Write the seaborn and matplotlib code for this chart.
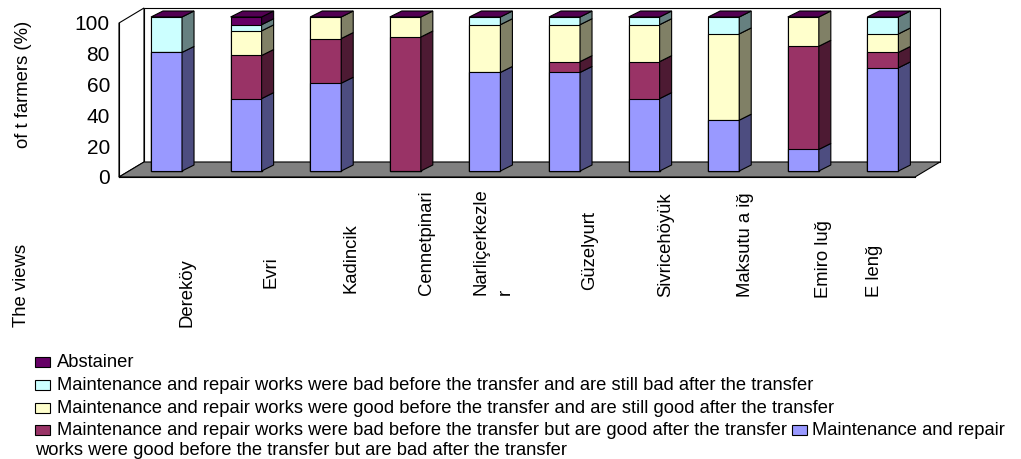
import numpy as np
import matplotlib
matplotlib.use("Agg")
import matplotlib.pyplot as plt
import matplotlib.transforms as mtransforms
from matplotlib.patches import Polygon, Rectangle
import seaborn as sns

# ---- data -----------------------------------------------------------------
villages = ["Dereköy", "Evri", "Kadincik", "Cennetpinari", "Narliçerkezle\nr",
            "Güzelyurt", "Sivricehöyük", "Maksutu a iğ", "Emiro luğ", "E lenğ"]

# shares of farmers (%), stacked from the bottom up
good_then_bad = [77, 47, 57, 0, 64, 64, 47, 33, 14, 67]
bad_then_good = [0, 28, 29, 87, 0, 7, 24, 0, 67, 10]
good_still_good = [0, 16, 14, 13, 31, 24, 24, 56, 19, 12]
bad_still_bad = [23, 4, 0, 0, 5, 5, 5, 11, 0, 11]
abstainer = [0, 5, 0, 0, 0, 0, 0, 0, 0, 0]

series_labels = [
    "Maintenance and repair works were good before the transfer but are bad after the transfer",
    "Maintenance and repair works were bad before the transfer but are good after the transfer",
    "Maintenance and repair works were good before the transfer and are still good after the transfer",
    "Maintenance and repair works were bad before the transfer and are still bad after the transfer",
    "Abstainer",
]
y_ticks = [0, 20, 40, 60, 80, 100]

# ---- styling ----------------------------------------------------------------
front_colors = ["#9999FF", "#993366", "#FFFFCC", "#CCFFFF", "#660066"]
side_colors = ["#4D4D80", "#4D1A33", "#808066", "#668080", "#330033"]
top_color = "#520052"
floor_color = "#808080"

sns.set_style("white")
plt.rcParams["font.family"] = ["Liberation Sans", "DejaVu Sans"]
plt.rcParams["text.color"] = "black"
plt.rcParams["axes.edgecolor"] = "black"
plt.rcParams["xtick.color"] = "black"
plt.rcParams["ytick.color"] = "black"

W, H, DPI = 1021, 459, 100
fig = plt.figure(figsize=(W / DPI, H / DPI), dpi=DPI)


def fx(x):
    return x / W


def fy(y):
    return 1 - y / H


# front plane of the 3-D box (pixels, measured from top-left)
left, right, top, bottom = 119, 915, 23, 177
ax = fig.add_axes([fx(left), fy(bottom), (right - left) / W, (bottom - top) / H])
ax.patch.set_visible(False)

values = np.vstack([good_then_bad, bad_then_good, good_still_good,
                    bad_still_bad, abstainer]).astype(float)
cum = np.cumsum(values, axis=0)
n_series, n_cat = values.shape

# stacked columns: cumulative totals drawn from the tallest down
bars = {}
for k in reversed(range(n_series)):
    before = len(ax.patches)
    sns.barplot(x=villages, y=cum[k], color=front_colors[k], saturation=1,
                width=0.39, edgecolor="black", linewidth=0.8,
                errorbar=None, ax=ax)
    new = sorted(ax.patches[before:], key=lambda p: p.get_x())
    bars[k] = new

ax.set_xlim(-0.5, n_cat - 0.5)
ax.set_ylim(0, 100)

# columns sit half-way into the box depth
bar_shift = ax.transData + mtransforms.ScaledTranslation(7.7 / DPI, 6 / DPI,
                                                         fig.dpi_scale_trans)
for k in bars:
    for p in bars[k]:
        p.set_transform(bar_shift)
        p.set_clip_on(False)

to_fig = fig.transFigure.inverted()
depth = np.array([12.0, 6.0])        # column depth in pixels
box_depth = np.array([25.0, 15.0])   # box depth in pixels


def add_face(pts_disp, color, z):
    poly = Polygon(to_fig.transform(pts_disp), closed=True, facecolor=color,
                   edgecolor="black", linewidth=0.8, transform=fig.transFigure,
                   zorder=z)
    fig.add_artist(poly)


# walls and floor of the box
c = ax.transAxes.transform([(0, 0), (1, 0), (1, 1), (0, 1)])
fl, fr, tr, tl = c
add_face([fl, fl + box_depth, tl + box_depth, tl], "white", -3)
add_face([fl + box_depth, fr + box_depth, tr + box_depth, tl + box_depth], "white", -2)
add_face([fl, fr, fr + box_depth, fl + box_depth], floor_color, -1)

# right-hand sides of every stacked segment and the column tops
for k in range(n_series):
    for i in range(n_cat):
        lo = cum[k - 1][i] if k > 0 else 0.0
        hi = cum[k][i]
        p = bars[k][i]
        x1 = p.get_x() + p.get_width()
        if hi - lo > 0:
            a, b = bar_shift.transform([(x1, lo), (x1, hi)])
            add_face([a, b, b + depth, a + depth], side_colors[k], 3)
for i in range(n_cat):
    p = bars[n_series - 1][i]
    x0, x1 = p.get_x(), p.get_x() + p.get_width()
    hi = cum[-1][i]
    a, b = bar_shift.transform([(x0, hi), (x1, hi)])
    add_face([a, b, b + depth, a + depth], top_color, 3)

# axes, ticks
for s in ["top", "right"]:
    ax.spines[s].set_visible(False)
for s in ["left", "bottom"]:
    ax.spines[s].set_linewidth(0.8)
ax.set_yticks(y_ticks)
ax.set_yticklabels([str(t) for t in y_ticks])
ax.set_xticks(np.arange(-0.5, n_cat, 1.0))
ax.set_xticklabels([])
ax.tick_params(axis="both", direction="out", length=3.6, width=0.8)
ax.tick_params(axis="y", labelsize=15, pad=2.9)
ax.set_xlabel("")
ax.set_ylabel("")

# category labels (rotated)
label_x = [187, 271, 351, 426, 493, 590, 666, 746, 823, 874]
label_bottom = [327, 288, 293, 295, 295, 290, 297, 297, 298, 297]
for name, lx, lb in zip(villages, label_x, label_bottom):
    fig.text(fx(lx), fy(lb), name, rotation=90, ha="center", va="bottom",
             fontsize=13.3, multialignment="left", linespacing=1.6)

fig.text(fx(24), fy(84), "of t farmers (%)", rotation=90, ha="center",
         va="center", fontsize=13.3)
fig.text(fx(22), fy(285), "The views", rotation=90, ha="center",
         va="center", fontsize=13.3)

# legend, written out line by line
leg_fs = 13.2
sq_w, sq_h = 15, 10


def legend_square(x, baseline, color):
    fig.add_artist(Rectangle((fx(x), fy(baseline)), sq_w / W, sq_h / H,
                             facecolor=color, edgecolor="black", linewidth=0.8,
                             transform=fig.transFigure))


rows = [4, 3, 2, 1]
baselines = [367, 390, 413, 435]
last_text = None
for k, base in zip(rows, baselines):
    legend_square(35, base, front_colors[k])
    last_text = fig.text(fx(57), fy(base), series_labels[k], ha="left",
                         va="baseline", fontsize=leg_fs)

renderer = fig.canvas.get_renderer()
end_px = last_text.get_window_extent(renderer).x1
words = series_labels[0].split()
head, tail = " ".join(words[:3]), " ".join(words[3:])
legend_square(end_px + 5, baselines[-1], front_colors[0])
fig.text(fx(end_px + 5 + sq_w + 5), fy(baselines[-1]), head, ha="left",
         va="baseline", fontsize=leg_fs)
fig.text(fx(35), fy(455), tail, ha="left", va="baseline", fontsize=leg_fs)

fig.savefig("out.png", dpi=DPI)
